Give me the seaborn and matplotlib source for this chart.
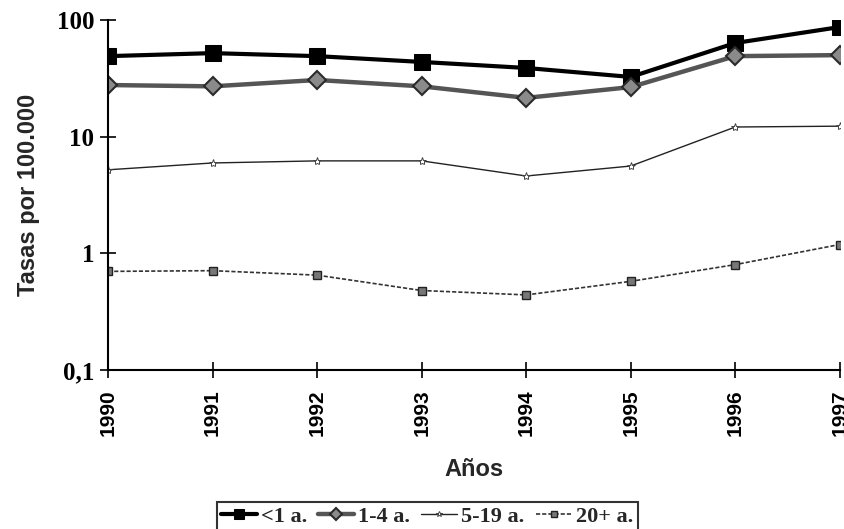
import matplotlib
matplotlib.use("Agg")
import matplotlib.pyplot as plt
import seaborn as sns

sns.set_theme(style="ticks")
plt.rcParams["font.family"] = ["Liberation Sans", "DejaVu Sans"]

# datos
years = [1990, 1991, 1992, 1993, 1994, 1995, 1996, 1997]
menos1 = [49, 52, 49, 43.7, 38.8, 32.5, 63.5, 87]
de1a4 = [27.7, 27, 30.6, 27, 21.5, 26.6, 49, 50]
de5a19 = [5.2, 5.95, 6.2, 6.2, 4.6, 5.6, 12.1, 12.3]
mas20 = [0.70, 0.71, 0.65, 0.48, 0.44, 0.575, 0.80, 1.19]

labels = ["<1 a.", "1-4 a.", "5-19 a.", "20+ a."]
y_ticks = [0.1, 1, 10, 100]
y_ticklabels = ["0,1", "1", "10", "100"]

styles = [
    dict(color="black", linewidth=3, linestyle="-", marker="s", markersize=11,
         markerfacecolor="black", markeredgecolor="black"),
    dict(color="#555555", linewidth=3.2, linestyle="-", marker="D", markersize=9,
         markerfacecolor="#8a8a8a", markeredgecolor="#2a2a2a", markeredgewidth=1.5),
    dict(color="#222222", linewidth=1.0, linestyle="-", marker="*", markersize=6,
         markerfacecolor="white", markeredgecolor="#444444", markeredgewidth=0.7),
    dict(color="#333333", linewidth=1.2, linestyle=(0, (2.5, 1.2)), marker="s", markersize=6,
         markerfacecolor="#777777", markeredgecolor="#222222", markeredgewidth=1),
]

fig = plt.figure(figsize=(8.44, 5.29), dpi=100)
ax = fig.add_axes([0.128, 0.3006, 0.867, 0.6616])

for vals, lab, st in zip([menos1, de1a4, de5a19, mas20], labels, styles):
    sns.lineplot(x=years, y=vals, ax=ax, label=lab, **st)

ax.set_yscale("log")
ax.set_ylim(0.1, 100)
ax.set_xlim(1990, 1997)
ax.set_yticks(y_ticks)
ax.set_yticklabels(y_ticklabels, fontfamily="Liberation Serif", fontweight="bold", fontsize=18)
ax.yaxis.set_minor_locator(matplotlib.ticker.NullLocator())
ax.set_xticks(years)
ax.set_xticklabels([str(y) for y in years], rotation=90, fontweight="bold", fontsize=15)
ax.tick_params(axis="both", direction="inout", length=12, width=1.2, colors="black")
ax.tick_params(axis="x", pad=8)
ax.tick_params(axis="y", pad=4)

for side in ["top", "right"]:
    ax.spines[side].set_visible(False)
for side in ["left", "bottom"]:
    ax.spines[side].set_color("black")
    ax.spines[side].set_linewidth(1.5)

ax.set_ylabel("Tasas por 100.000", fontsize=17, fontweight="bold", labelpad=12)
ax.set_xlabel("Años", fontsize=17, fontweight="bold", labelpad=16)
ax.grid(False)

handles, labs = ax.get_legend_handles_labels()
ax.get_legend().remove()
leg = fig.legend(handles, labs, loc="upper center", bbox_to_anchor=(0.506, 0.072), ncol=4,
                 frameon=True, fancybox=False, handlelength=1.6, handletextpad=0.2,
                 columnspacing=0.5, borderpad=0.2, markerscale=0.7,
                 prop=dict(family="Liberation Serif", weight="bold", size=16))
leg.get_frame().set_edgecolor("black")
leg.get_frame().set_linewidth(1.5)

fig.savefig("out.png", dpi=100)
plt.close()
